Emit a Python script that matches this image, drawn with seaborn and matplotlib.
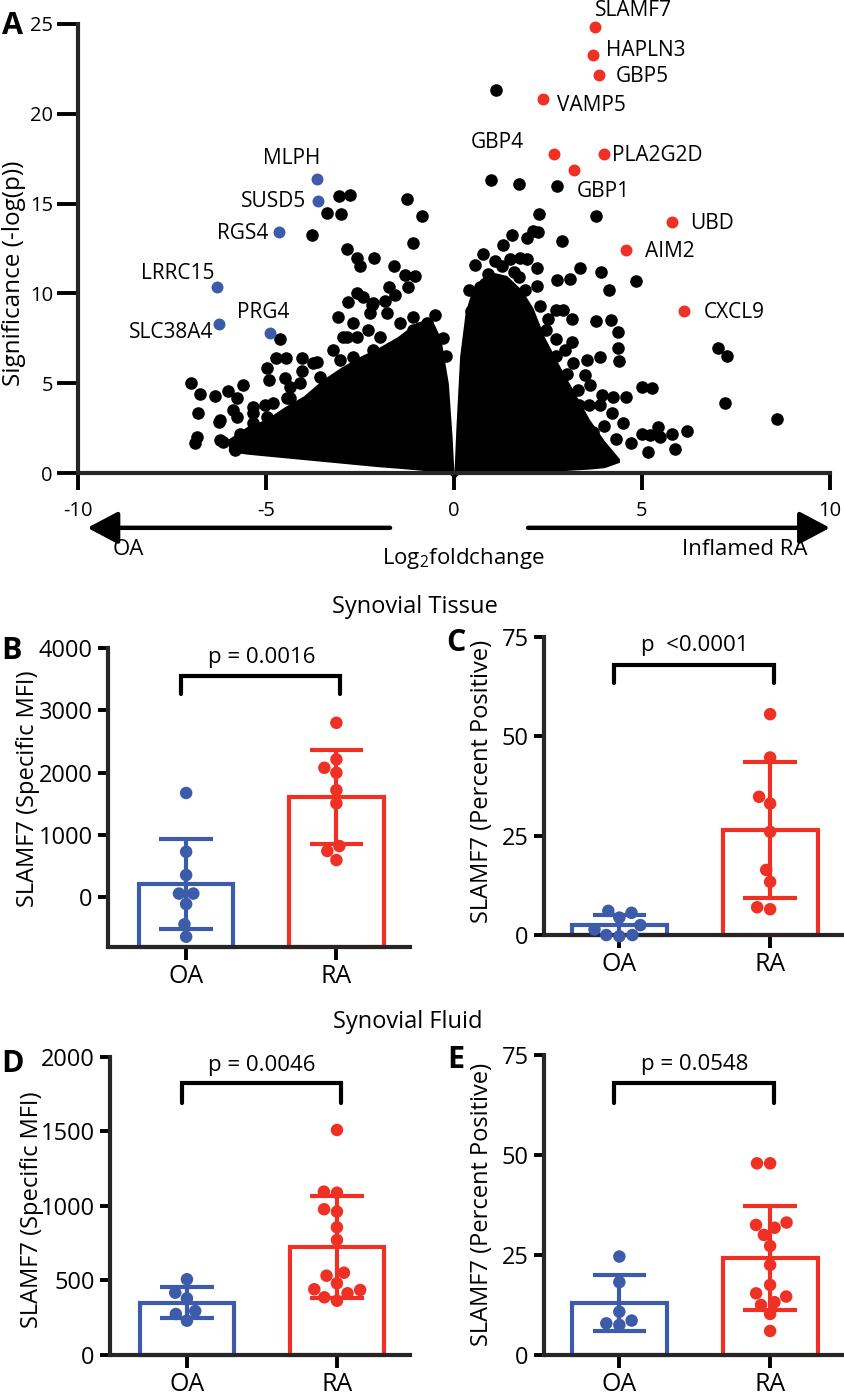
import numpy as np
import pandas as pd
import matplotlib
matplotlib.use("Agg")
import matplotlib.pyplot as plt
import seaborn as sns

# ---------------- data: panel A (volcano) ----------------
bg_x = [-2.77, -3.06, -3.38, -3.0, -3.77, -1.24, -0.86, -1.1, -2.84, -2.58, -2.5, -2.13, -1.6, -1.3,
        -1.04, -1.22, -1.72, -2.58, -2.42, -2.82, -2.15, -1.84, -1.57, -0.5, -1.09, -3.08, -2.68, -2.23,
        -4.63, -4.73, -4.47, -4.04, -4.98, -4.92, -4.49, -4.36, -7.0, -6.76, -6.36, -6.0, -5.77, -5.6,
        -6.8, -6.25, -6.84, -6.89, -6.15, -5.82, -5.78, -5.34, -5.03, -5.7, -4.36, -4.04, -3.64, -3.22,
        -3.03, -2.95, -1.09, -1.78, -2.18, -2.58, -6.22, -5.87, -5.34, -6.22,
        -3.75, -2.85, -2.3, -1.97, -1.44, -1.09, -0.72, -0.56, -1.62, -2.15, -2.68, -3.56, -4.1, -4.44,
        -4.81, -4.98, -5.34, -0.3, -0.2,
        1.13, 0.98, 1.74, 2.75, 3.79, 2.27, 2.86, 3.35, 3.91, 4.13, 4.83, 2.73, 3.09, 2.71, 2.91, 3.13,
        3.79, 4.18, 4.35, 4.35, 4.39, 2.46, 2.71, 3.13, 2.95, 3.88, 3.53, 3.17, 3.48, 3.62, 4.99, 5.26,
        3.93, 4.24, 4.57, 3.33, 3.88, 4.19, 3.17, 4.5, 5.42, 4.99, 5.21, 5.79, 6.21, 5.48, 4.7, 5.15,
        5.88, 7.01, 7.25, 7.22, 8.58, 0.69, 0.91, 0.77, 1.31, 1.54, 1.76, 1.94, 2.1, 2.23, 1.49, 1.94,
        2.2, 1.28, 1.73, 2.2,
        0.4, 0.55, 0.45, 1.1, 1.6, 1.9, 2.3, 2.5, 2.1, 2.7, 3.0, 3.3, 3.6, 4.0, 4.3, 3.7]
bg_y = [15.5, 15.4, 14.5, 14.4, 13.25, 15.25, 14.3, 12.8, 12.45, 12.0, 11.5, 11.95, 11.5, 11.0,
        10.97, 10.36, 10.36, 10.0, 9.8, 9.5, 9.45, 9.6, 9.9, 8.8, 8.7, 8.7, 8.35, 8.9,
        7.46, 6.4, 6.4, 6.4, 5.85, 5.2, 5.3, 4.8, 5.0, 4.4, 4.3, 4.57, 4.2, 4.9,
        3.34, 2.84, 2.0, 1.67, 1.73, 1.28, 3.12, 3.34, 3.79, 2.2, 4.2, 5.7, 6.2, 6.85,
        6.3, 7.6, 7.96, 8.9, 9.35, 7.6, 2.95, 3.5, 3.67, 1.84,
        6.1, 7.6, 7.96, 7.6, 8.35, 7.6, 8.35, 7.2, 6.85, 6.85, 6.46, 5.35, 5.0, 4.2,
        3.9, 3.12, 2.78, 7.5, 6.5,
        21.3, 16.3, 16.1, 16.0, 14.3, 14.4, 12.9, 11.4, 11.2, 10.2, 10.7, 10.75, 10.8, 9.1, 9.08, 8.6,
        8.46, 8.5, 7.83, 6.94, 6.24, 7.96, 7.45, 7.3, 6.85, 6.46, 6.29, 6.1, 5.46, 4.9, 4.8, 4.75,
        4.34, 4.23, 4.23, 3.79, 3.79, 3.34, 2.84, 2.78, 2.56, 2.2, 2.1, 2.2, 2.34, 2.0, 1.67, 1.17,
        1.34, 6.94, 6.5, 3.9, 3.0, 10.36, 11.1, 12.2, 12.7, 13.25, 12.0, 13.1, 13.5, 13.4, 11.9, 11.9,
        11.4, 11.5, 10.9, 10.4,
        10.2, 11.6, 9.0, 11.8, 11.2, 10.2, 9.3, 8.6, 8.0, 6.5, 5.5, 4.6, 3.8, 2.6, 1.9, 2.3]

# envelope of the dense, fully overlapping cloud of genes
env_x = [-6.0, -5.5, -5.0, -4.5, -4.0, -3.5, -3.0, -2.5, -2.0, -1.5, -1.0, -0.6, -0.35, -0.15, -0.05,
         0.0, 0.05, 0.15, 0.3, 0.45, 0.7, 1.0, 1.4, 1.8, 2.1, 2.4, 2.8, 3.2, 3.6, 4.0, 4.4]
env_upper = [1.9, 2.6, 3.0, 3.7, 4.3, 5.2, 5.9, 6.5, 7.0, 7.6, 8.4, 8.6, 7.5, 5.0, 2.0,
             0.0, 2.5, 6.5, 9.0, 10.0, 10.8, 11.2, 11.0, 10.2, 9.2, 7.6, 6.0, 4.5, 3.0, 1.8, 0.8]
env_lower = [1.2, 1.05, 0.95, 0.85, 0.75, 0.65, 0.55, 0.45, 0.35, 0.27, 0.18, 0.1, 0.05, 0.0, -0.2,
             -0.45, -0.2, 0.0, 0.0, 0.0, 0.0, 0.0, 0.0, 0.02, 0.05, 0.08, 0.12, 0.17, 0.22, 0.3, 0.6]

up_genes = ["SLAMF7", "HAPLN3", "GBP5", "VAMP5", "GBP4", "PLA2G2D", "GBP1", "UBD", "AIM2", "CXCL9"]
up_x = [3.75, 3.70, 3.86, 2.37, 2.66, 3.99, 3.19, 5.80, 4.57, 6.12]
up_y = [24.83, 23.3, 22.16, 20.8, 17.75, 17.75, 16.87, 14.0, 12.43, 9.0]
down_genes = ["MLPH", "SUSD5", "RGS4", "LRRC15", "SLC38A4", "PRG4"]
down_x = [-3.64, -3.62, -4.65, -6.3, -6.25, -4.89]
down_y = [16.37, 15.14, 13.4, 10.35, 8.3, 7.8]

# ---------------- data: panels B-E ----------------
groups = ["OA", "RA"]
B_OA = [1674, 730, 356, 59, 59, -109, -435, -634]
B_RA = [2801, 2213, 1999, 2079, 1720, 1507, 822, 742, 597]
C_OA = [6.1, 5.6, 4.4, 2.5, 1.4, 0.0, 0.0, -0.3]
C_RA = [55.6, 44.7, 34.8, 33.1, 26.0, 16.4, 13.4, 6.5, 7.0]
D_OA = [508, 418, 380, 295, 275, 230]
D_RA = [1510, 1089, 1096, 978, 962, 857, 772, 532, 552, 441, 414, 436, 481, 387, 364]
E_OA = [24.6, 18.2, 10.8, 8.6, 7.9, 7.5]
E_RA = [47.9, 47.9, 32.5, 33.1, 31.8, 30.0, 27.25, 22.5, 17.5, 15.4, 14.6, 13.2, 12.5, 10.25, 6.0]
p_texts = ["p = 0.0016", "p  <0.0001", "p = 0.0046", "p = 0.0548"]

BLUE = "#3C5BA9"
RED = "#EE3124"

# ---------------- style ----------------
sns.set_theme(style="ticks")
plt.rcParams["font.family"] = ["Open Sans", "DejaVu Sans"]
plt.rcParams["mathtext.fontset"] = "custom"
plt.rcParams["mathtext.rm"] = "Open Sans"
plt.rcParams["axes.unicode_minus"] = False
plt.rcParams["text.color"] = "black"
plt.rcParams["axes.labelcolor"] = "black"
plt.rcParams["xtick.color"] = "black"
plt.rcParams["ytick.color"] = "black"

fig = plt.figure(figsize=(8.44, 13.95), dpi=100)

# ---------------- panel A ----------------
axA = fig.add_axes([0.0924, 0.6609, 0.891, 0.3219])
axA.fill_between(env_x, env_lower, env_upper, color="black", lw=0, clip_on=False, zorder=2)
sns.scatterplot(x=bg_x, y=bg_y, ax=axA, color="black", s=82, linewidth=0, zorder=3, clip_on=False)
sns.scatterplot(x=up_x, y=up_y, ax=axA, color=RED, s=74, linewidth=0, zorder=4, clip_on=False)
sns.scatterplot(x=down_x, y=down_y, ax=axA, color=BLUE, s=74, linewidth=0, zorder=4, clip_on=False)
axA.set_xlim(-10, 10)
axA.set_ylim(0, 25)
axA.set_xticks([-10, -5, 0, 5, 10])
axA.set_yticks([0, 5, 10, 15, 20, 25])
sns.despine(ax=axA)
for s in ["left", "bottom"]:
    axA.spines[s].set_linewidth(3)
axA.tick_params(axis="y", length=15, width=2.8, labelsize=14.5, pad=3)
axA.tick_params(axis="x", length=12, width=2.8, labelsize=14.5, pad=8)
axA.set_ylabel("Significance (-log(p))", fontsize=17.5)
axA.yaxis.set_label_coords(-0.069, 0.445)

up_off = [(38, 17), (53, 4), (43, -1), (48, -6), (-57, 12), (53.5, -1), (29.5, -21), (39.5, -2), (44, -2), (50, -1)]
down_off = [(-25.5, 21), (-44, 0), (-36, -1), (-39.5, 14), (-47.5, -9), (-6.5, 20)]
for g, x, y, o in zip(up_genes, up_x, up_y, up_off):
    axA.annotate(g, (x, y), xytext=o, textcoords="offset pixels", ha="center", va="center",
                 fontsize=15, annotation_clip=False)
for g, x, y, o in zip(down_genes, down_x, down_y, down_off):
    axA.annotate(g, (x, y), xytext=o, textcoords="offset pixels", ha="center", va="center",
                 fontsize=15, annotation_clip=False)

arrow_kw = dict(arrowstyle="-|>,head_length=0.85,head_width=0.45", lw=3.2, color="black",
                mutation_scale=22, shrinkA=0, shrinkB=0)
axA.annotate("", xy=(-9.75, -3.05), xytext=(-1.7, -3.05), arrowprops=arrow_kw, annotation_clip=False)
axA.annotate("", xy=(10.0, -3.05), xytext=(1.97, -3.05), arrowprops=arrow_kw, annotation_clip=False)
axA.text(-9.07, -4.25, "OA", ha="left", va="center", fontsize=16)
axA.text(9.41, -4.25, "Inflamed RA", ha="right", va="center", fontsize=16)
axA.text(0.24, -4.75, "Log$_\\mathregular{2}$foldchange", ha="center", va="center", fontsize=16)

# ---------------- panels B-E ----------------
def bar_panel(ax, oa, ra, ylim, yticks, ylabel, xlim, label_xy, bracket, ptext):
    df = pd.DataFrame({"group": ["OA"] * len(oa) + ["RA"] * len(ra), "value": list(oa) + list(ra)})
    pal = {"OA": BLUE, "RA": RED}
    sns.barplot(data=df, x="group", y="value", hue="group", order=groups, palette=pal, fill=False,
                width=0.63, errorbar="sd", capsize=0.355, linewidth=3,
                err_kws={"linewidth": 3, "solid_capstyle": "butt"}, legend=False, ax=ax)
    base = ylim[0]
    for p in ax.patches:
        top = p.get_y() + p.get_height()
        p.set_y(base)
        p.set_height(top - base)
        p.set_clip_on(False)
    sns.swarmplot(data=df, x="group", y="value", hue="group", order=groups, palette=pal, size=9,
                  linewidth=0, legend=False, ax=ax, zorder=4)
    for c in ax.collections:
        c.set_clip_on(False)
    ax.set_ylim(*ylim)
    ax.set_xlim(*xlim)
    ax.set_yticks(yticks)
    sns.despine(ax=ax)
    for s in ["left", "bottom"]:
        ax.spines[s].set_linewidth(3)
    ax.tick_params(axis="y", length=7, width=2.8, labelsize=17, pad=4)
    ax.tick_params(axis="x", length=9.5, width=2.8, labelsize=18, pad=3)
    ax.set_xlabel("")
    ax.set_ylabel(ylabel, fontsize=17)
    ax.yaxis.set_label_coords(*label_xy)
    leg, top, ty = bracket
    ax.plot([-0.035, -0.035, 1.025, 1.025], [leg, top, top, leg], color="black", lw=3, clip_on=False,
            solid_joinstyle="miter")
    ax.text(0.5, ty, ptext, ha="center", va="center", fontsize=16, clip_on=False)


axB = fig.add_axes([0.1280, 0.3211, 0.3578, 0.2143])
bar_panel(axB, B_OA, B_RA, (-800, 4000), [0, 1000, 2000, 3000, 4000], "SLAMF7 (Specific MFI)",
          (-0.52, 1.49), (-0.225, 0.528), (3258, 3547, 3852), p_texts[0])
axC = fig.add_axes([0.6445, 0.3297, 0.3555, 0.2136])
bar_panel(axC, C_OA, C_RA, (0, 75), [0, 25, 50, 75], "SLAMF7 (Percent Positive)",
          (-0.5, 1.49), (-0.167, 0.517), (63.4, 68, 73), p_texts[1])
axD = fig.add_axes([0.1303, 0.0287, 0.3555, 0.2136])
bar_panel(axD, D_OA, D_RA, (0, 2000), [0, 500, 1000, 1500, 2000], "SLAMF7 (Specific MFI)",
          (-0.513, 1.487), (-0.22, 0.487), (1691, 1825, 1946), p_texts[2])
axE = fig.add_axes([0.6445, 0.0287, 0.3555, 0.2151])
bar_panel(axE, E_OA, E_RA, (0, 75), [0, 25, 50, 75], "SLAMF7 (Percent Positive)",
          (-0.5, 1.49), (-0.167, 0.503), (63, 68, 72.5), p_texts[3])

# ---------------- titles and panel letters ----------------
W, H = 844, 1395
fig.text(415 / W, 1 - 607 / H, "Synovial Tissue", ha="center", va="center", fontsize=17)
fig.text(408 / W, 1 - 1022 / H, "Synovial Fluid", ha="center", va="center", fontsize=17)
for lt, (px, py) in zip("ABCDE", [(12, 26), (12, 651), (456, 643), (12, 1064), (456, 1060)]):
    fig.text(px / W, 1 - py / H, lt, ha="center", va="center", fontsize=22, fontweight="bold")

fig.savefig("out.png", dpi=100)
